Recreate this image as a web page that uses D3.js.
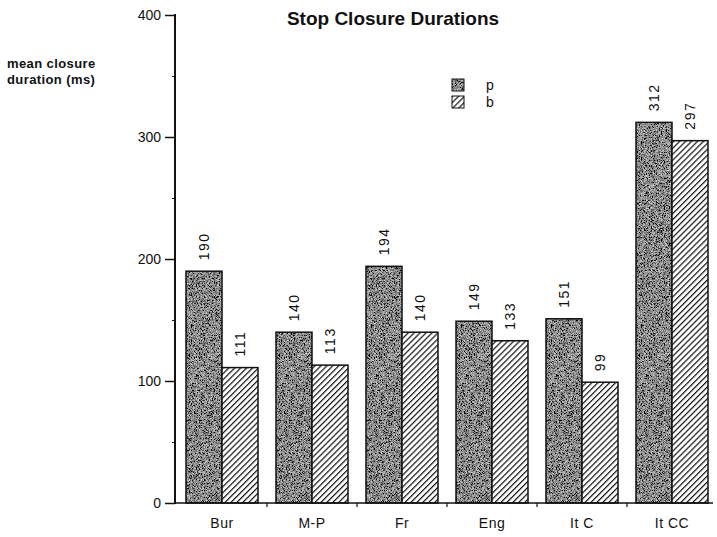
<!DOCTYPE html>
<html>
<head>
<meta charset="utf-8">
<script src="https://cdn.jsdelivr.net/npm/d3@7"></script>
<style>
  body { margin: 0; background: #fff; }
  text { font-family: "Liberation Sans", Arial, sans-serif; fill: #111; }
</style>
</head>
<body>
<div id="chart"></div>
<script>
// data
var categories = ["Bur", "M-P", "Fr", "Eng", "It C", "It CC"];
var seriesNames = ["p", "b"];
var pValues = [190, 140, 194, 149, 151, 312];
var bValues = [111, 113, 140, 133, 99, 297];
var majorTicks = [0, 100, 200, 300, 400];
var minorTicks = [50, 150, 250, 350];

var width = 717, height = 537;

var svg = d3.select("#chart").append("svg")
    .attr("width", width)
    .attr("height", height);

var defs = svg.append("defs");

// stippled dark fill for p
var f = defs.append("filter").attr("id", "stip")
    .attr("x", 0).attr("y", 0).attr("width", 1).attr("height", 1);
f.append("feTurbulence").attr("type", "fractalNoise")
    .attr("baseFrequency", 1.4).attr("numOctaves", 1).attr("seed", 4).attr("result", "n");
f.append("feColorMatrix").attr("in", "n").attr("type", "matrix")
    .attr("values", "1.6 0 0 0 -0.55  1.6 0 0 0 -0.55  1.6 0 0 0 -0.55  0 0 0 0 1")
    .attr("result", "g");
f.append("feComposite").attr("in", "g").attr("in2", "SourceGraphic").attr("operator", "in");

// diagonal hatching for b
var pat = defs.append("pattern").attr("id", "hatch")
    .attr("patternUnits", "userSpaceOnUse")
    .attr("width", 4.2).attr("height", 4.2)
    .attr("patternTransform", "rotate(45)");
pat.append("rect").attr("width", 4.2).attr("height", 4.2).attr("fill", "#fff");
pat.append("line").attr("x1", 0).attr("y1", 0).attr("x2", 0).attr("y2", 4.2)
    .attr("stroke", "#111").attr("stroke-width", 2.4);

var y = d3.scaleLinear().domain([0, 400]).range([503, 15]);

var x0 = d3.scaleBand().domain(categories).range([177, 717])
    .paddingInner(0.2).paddingOuter(0.1);
var x1 = d3.scaleBand().domain(seriesNames).range([0, x0.bandwidth()]);

var rows = categories.map(function (c, i) {
    return { cat: c, vals: [{ s: "p", v: pValues[i] }, { s: "b", v: bValues[i] }] };
});

// bars
var groups = svg.selectAll(".grp")
    .data(rows)
    .enter().append("g")
    .attr("class", "grp")
    .attr("transform", function (d) { return "translate(" + x0(d.cat) + ",0)"; });

var bar = groups.selectAll(".bar")
    .data(function (d) { return d.vals; })
    .enter().append("g")
    .attr("class", "bar");

bar.append("rect")
    .attr("x", function (d) { return x1(d.s); })
    .attr("y", function (d) { return y(d.v); })
    .attr("width", x1.bandwidth())
    .attr("height", function (d) { return y(0) - y(d.v); })
    .attr("fill", function (d) { return d.s == "p" ? "#444" : "url(#hatch)"; })
    .attr("filter", function (d) { return d.s == "p" ? "url(#stip)" : null; });

bar.append("rect")
    .attr("x", function (d) { return x1(d.s); })
    .attr("y", function (d) { return y(d.v); })
    .attr("width", x1.bandwidth())
    .attr("height", function (d) { return y(0) - y(d.v); })
    .attr("fill", "none")
    .attr("stroke", "#111")
    .attr("stroke-width", 1.5);

// rotated value labels
bar.append("text")
    .attr("transform", function (d) {
        return "translate(" + (x1(d.s) + x1.bandwidth() / 2) + "," + (y(d.v) - 11) + ") rotate(-90)";
    })
    .attr("dy", "0.36em")
    .style("font-size", "14px")
    .style("letter-spacing", "1.5px")
    .text(function (d) { return d.v; });

// y axis
var yAxis = svg.append("g")
    .attr("transform", "translate(175,0)")
    .call(d3.axisLeft(y).tickValues(majorTicks).tickSize(10).tickPadding(4).tickFormat(d3.format("d")));
yAxis.select(".domain").attr("stroke", "#111").attr("stroke-width", 2).attr("d", "M0,14V504");
yAxis.selectAll(".tick line").attr("stroke", "#111").attr("stroke-width", 1.5);
yAxis.selectAll(".tick text").style("font-size", "14px").style("font-family", "Liberation Sans, Arial, sans-serif").attr("fill", "#111");

svg.append("g")
    .attr("transform", "translate(175,0)")
    .call(d3.axisLeft(y).tickValues(minorTicks).tickSize(3).tickFormat(""))
    .call(function (g) { g.select(".domain").remove(); })
    .selectAll("line").attr("stroke", "#111");

// x axis
var xAxis = svg.append("g")
    .attr("transform", "translate(0,503)")
    .call(d3.axisBottom(x0).tickSize(0).tickPadding(15));
xAxis.select(".domain").attr("stroke", "#111").attr("stroke-width", 1.5).attr("d", "M175,0H713");
xAxis.selectAll(".tick text").style("font-size", "14px").style("letter-spacing", "0.5px")
    .style("font-family", "Liberation Sans, Arial, sans-serif").attr("fill", "#111");

// small ticks between the groups
svg.append("g").selectAll("line")
    .data(categories.slice(1))
    .enter().append("line")
    .attr("x1", function (c) { return x0(c) - x0.step() * 0.1; })
    .attr("x2", function (c) { return x0(c) - x0.step() * 0.1; })
    .attr("y1", 503).attr("y2", 507)
    .attr("stroke", "#111").attr("stroke-width", 1.2);

// title
svg.append("text")
    .attr("x", 393).attr("y", 25)
    .attr("text-anchor", "middle")
    .style("font-size", "19px").style("font-weight", "bold")
    .text("Stop Closure Durations");

// y label
svg.append("text").attr("x", 7).attr("y", 68)
    .style("font-size", "13px").style("font-weight", "bold").style("letter-spacing", "0.4px")
    .text("mean closure");
svg.append("text").attr("x", 7).attr("y", 84)
    .style("font-size", "13px").style("font-weight", "bold").style("letter-spacing", "0.4px")
    .text("duration (ms)");

// legend
var legend = svg.append("g").selectAll("g")
    .data(seriesNames)
    .enter().append("g")
    .attr("transform", function (d, i) { return "translate(452," + (79 + i * 17) + ")"; });
legend.append("rect")
    .attr("width", 12).attr("height", 12)
    .attr("fill", function (d) { return d == "p" ? "#444" : "url(#hatch)"; })
    .attr("filter", function (d) { return d == "p" ? "url(#stip)" : null; });
legend.append("rect")
    .attr("width", 12).attr("height", 12)
    .attr("fill", "none").attr("stroke", "#111").attr("stroke-width", 1);
legend.append("text")
    .attr("x", 34).attr("y", 11)
    .style("font-size", "14px")
    .text(function (d) { return d; });
</script>
</body>
</html>
